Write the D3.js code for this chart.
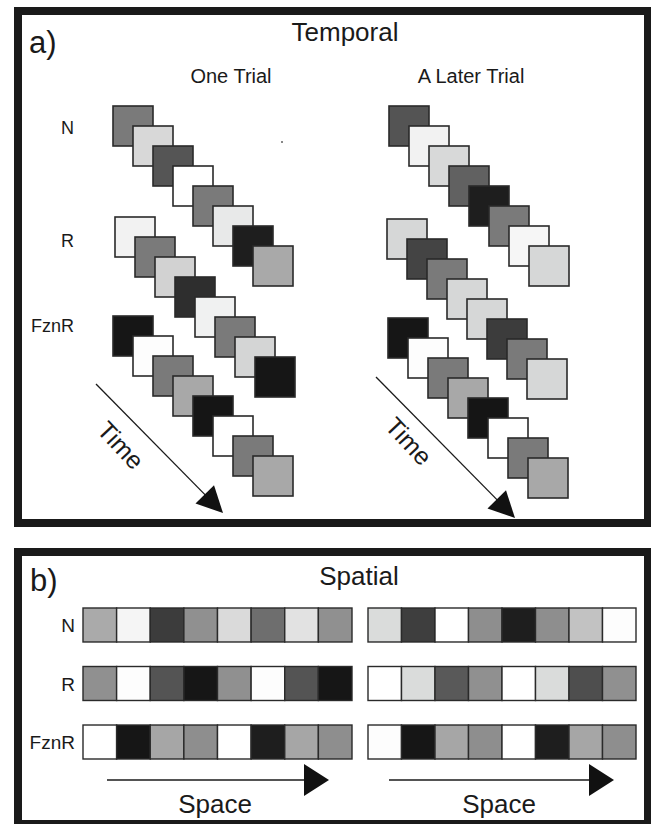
<!DOCTYPE html>
<html>
<head>
<meta charset="utf-8">
<script src="https://cdn.jsdelivr.net/npm/d3@7"></script>
<style>
  html, body { margin: 0; padding: 0; background: #fff; }
  svg { display: block; font-family: "Liberation Sans", Arial, Helvetica, sans-serif; }
</style>
</head>
<body>
<svg id="chart" width="651" height="824"></svg>
<script>
// ---------------- DATA ----------------
const rowLabels = ["N", "R", "FznR"];
const stepIndex = [0, 1, 2, 3, 4, 5, 6, 7];

// Temporal panel: grey level of each successive square (time steps)
const oneTrialN    = ["#7a7a7a", "#d8d8d8", "#555555", "#ffffff", "#7a7a7a", "#e8e9e9", "#1e1e1e", "#a9a9a9"];
const oneTrialR    = ["#f2f2f2", "#7a7a7a", "#d2d2d2", "#2e2e2e", "#f0f1f1", "#7a7a7a", "#d4d5d5", "#161616"];
const oneTrialFznR = ["#161616", "#fdfdfd", "#7a7a7a", "#a8a8a8", "#151515", "#ffffff", "#7a7a7a", "#a8a8a8"];
const laterTrialN    = ["#545454", "#f2f2f2", "#d8d9d9", "#616161", "#1e1e1e", "#7a7a7a", "#f6f6f6", "#d6d7d7"];
const laterTrialR    = ["#d6d7d7", "#444444", "#7a7a7a", "#d6d7d7", "#d6d7d7", "#3c3c3c", "#7a7a7a", "#d6d7d7"];
const laterTrialFznR = ["#161616", "#fdfdfd", "#7a7a7a", "#a8a8a8", "#151515", "#ffffff", "#7a7a7a", "#a8a8a8"];

// Spatial panel: grey level of each cell along space
const spaceOneN    = ["#aaaaaa", "#f5f5f5", "#3c3c3c", "#909090", "#dadada", "#6e6e6e", "#e2e2e2", "#909090"];
const spaceOneR    = ["#909090", "#fdfdfd", "#545454", "#161616", "#909090", "#fdfdfd", "#545454", "#161616"];
const spaceOneFznR = ["#ffffff", "#161616", "#a6a6a6", "#8e8e8e", "#ffffff", "#1e1e1e", "#a6a6a6", "#8e8e8e"];
const spaceLaterN    = ["#dadcdb", "#3e3e3e", "#ffffff", "#8e8e8e", "#1e1e1e", "#8e8e8e", "#c2c2c2", "#fdfdfd"];
const spaceLaterR    = ["#ffffff", "#dadcdb", "#595959", "#909090", "#ffffff", "#dadcdb", "#4e4e4e", "#909090"];
const spaceLaterFznR = ["#fdfdfd", "#161616", "#a6a6a6", "#8e8e8e", "#ffffff", "#1e1e1e", "#a6a6a6", "#8e8e8e"];

const panelTitles = ["Temporal", "Spatial"];
const trialTitles = ["One Trial", "A Later Trial"];

// ---------------- DRAW ----------------
const svg = d3.select("#chart");
const frameColor = "#1a1a1a";
const textColor = "#1a1a1a";

svg.append("rect").attr("width", 651).attr("height", 824).attr("fill", "#fff");

// frames
svg.append("rect").attr("x", 18).attr("y", 11).attr("width", 630).attr("height", 512)
  .attr("fill", "#fff").attr("stroke", frameColor).attr("stroke-width", 8);
svg.append("rect").attr("x", 18).attr("y", 552).attr("width", 630).attr("height", 272)
  .attr("fill", "#fff").attr("stroke", frameColor).attr("stroke-width", 8);

// panel letters & titles
svg.append("text").attr("x", 29).attr("y", 53).attr("font-size", 31).attr("fill", textColor).text("a)");
svg.append("text").attr("x", 30).attr("y", 591).attr("font-size", 31).attr("fill", textColor).text("b)");
svg.append("text").attr("x", 345).attr("y", 41).attr("font-size", 26).attr("text-anchor", "middle")
  .attr("fill", textColor).text(panelTitles[0]);
svg.append("text").attr("x", 359).attr("y", 585).attr("font-size", 26).attr("text-anchor", "middle")
  .attr("fill", textColor).text(panelTitles[1]);
svg.append("text").attr("x", 231).attr("y", 83).attr("font-size", 20).attr("text-anchor", "middle")
  .attr("fill", textColor).text(trialTitles[0]);
svg.append("text").attr("x", 471).attr("y", 83).attr("font-size", 20).attr("text-anchor", "middle")
  .attr("fill", textColor).text(trialTitles[1]);

// ---------- Temporal panel ----------
const stepX = d3.scaleLinear().domain([0, 7]).range([0, 140]);
const stepY = d3.scaleLinear().domain([0, 7]).range([0, 140]);
const sq = 40;

const temporalSeries = [
  { data: oneTrialN,      x0: 113, y0: 106 },
  { data: oneTrialR,      x0: 115, y0: 217 },
  { data: oneTrialFznR,   x0: 113, y0: 316 },
  { data: laterTrialN,    x0: 389, y0: 106 },
  { data: laterTrialR,    x0: 387, y0: 219 },
  { data: laterTrialFznR, x0: 388, y0: 318 }
];
temporalSeries.forEach(s => {
  svg.append("g").selectAll("rect").data(stepIndex).join("rect")
    .attr("x", i => s.x0 + stepX(i))
    .attr("y", i => s.y0 + stepY(i))
    .attr("width", sq).attr("height", sq)
    .attr("fill", i => s.data[i])
    .attr("stroke", "#2a2a2a").attr("stroke-width", 1.6);
});

// tiny stray dot in the original
svg.append("rect").attr("x", 281).attr("y", 141).attr("width", 2).attr("height", 2).attr("fill", "#888");

const labelYTemporal = [134, 247, 332];
rowLabels.forEach((l, i) => {
  svg.append("text").attr("x", 74).attr("y", labelYTemporal[i]).attr("font-size", 18)
    .attr("text-anchor", "end").attr("fill", textColor).text(l);
});

function arrow(x1, y1, x2, y2, len, halfW, sw) {
  const dx = x2 - x1, dy = y2 - y1, L = Math.hypot(dx, dy);
  const ux = dx / L, uy = dy / L, px = -uy, py = ux;
  const bx = x2 - ux * len, by = y2 - uy * len;
  svg.append("line").attr("x1", x1).attr("y1", y1).attr("x2", bx + ux * 2).attr("y2", by + uy * 2)
    .attr("stroke", "#1a1a1a").attr("stroke-width", sw);
  svg.append("path")
    .attr("d", d3.line()([[x2, y2], [bx + px * halfW, by + py * halfW], [bx - px * halfW, by - py * halfW]]) + "Z")
    .attr("fill", "#111");
}

// Time arrows
arrow(96, 384, 223, 513, 26, 13, 1.3);
arrow(376, 377, 515, 518, 26, 13, 1.3);
[[121, 445], [409, 441]].forEach(([cx, cy]) => {
  svg.append("text").attr("transform", `translate(${cx},${cy}) rotate(47)`)
    .attr("font-size", 25).attr("text-anchor", "middle").attr("dominant-baseline", "central")
    .attr("fill", textColor).text("Time");
});

// ---------- Spatial panel ----------
const rowY = d3.scaleBand().domain(rowLabels).range([608, 759]).paddingInner(0.419);
const cellLeft = d3.scaleBand().domain(stepIndex).range([83, 352]);
const cellRight = d3.scaleBand().domain(stepIndex).range([368, 636]);

const spatialSeries = [
  { label: "N", data: spaceOneN, x: cellLeft },
  { label: "R", data: spaceOneR, x: cellLeft },
  { label: "FznR", data: spaceOneFznR, x: cellLeft },
  { label: "N", data: spaceLaterN, x: cellRight },
  { label: "R", data: spaceLaterR, x: cellRight },
  { label: "FznR", data: spaceLaterFznR, x: cellRight }
];
spatialSeries.forEach(s => {
  const g = svg.append("g");
  g.selectAll("rect").data(stepIndex).join("rect")
    .attr("x", i => s.x(i)).attr("y", rowY(s.label))
    .attr("width", s.x.bandwidth()).attr("height", rowY.bandwidth())
    .attr("fill", i => s.data[i])
    .attr("stroke", "#2a2a2a").attr("stroke-width", 1.4);
});

rowLabels.forEach(l => {
  svg.append("text").attr("x", 75).attr("y", rowY(l) + rowY.bandwidth() / 2 + 7)
    .attr("font-size", 19).attr("text-anchor", "end").attr("fill", textColor).text(l);
});

// Space arrows
function hArrow(x1, x2, y, len, halfW) {
  svg.append("line").attr("x1", x1).attr("y1", y).attr("x2", x2 - len + 2).attr("y2", y)
    .attr("stroke", "#1a1a1a").attr("stroke-width", 1.3);
  svg.append("path")
    .attr("d", d3.line()([[x2, y], [x2 - len, y - halfW], [x2 - len, y + halfW]]) + "Z")
    .attr("fill", "#111");
}
hArrow(107, 329, 780, 25, 16);
hArrow(389, 614, 780, 25, 16);
svg.append("text").attr("x", 215).attr("y", 813).attr("font-size", 26).attr("text-anchor", "middle")
  .attr("fill", textColor).text("Space");
svg.append("text").attr("x", 499).attr("y", 813).attr("font-size", 26).attr("text-anchor", "middle")
  .attr("fill", textColor).text("Space");
</script>
</body>
</html>
